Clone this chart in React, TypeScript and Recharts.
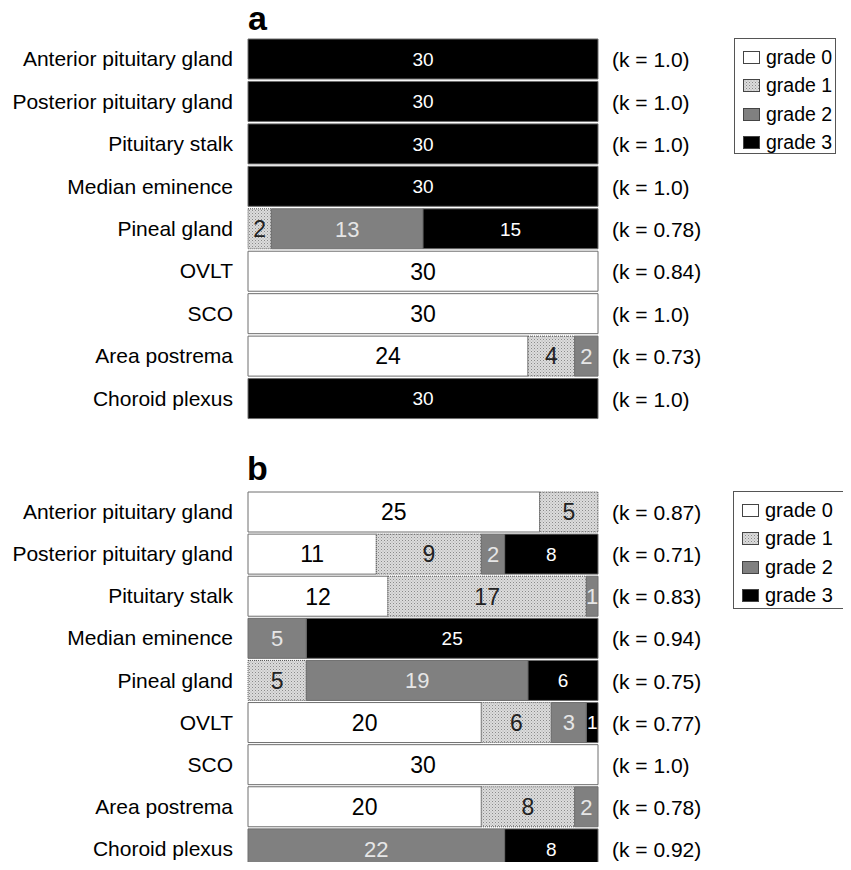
import { Bar, BarChart, LabelList, XAxis, YAxis } from 'recharts';

const organs = [
  'Anterior pituitary gland',
  'Posterior pituitary gland',
  'Pituitary stalk',
  'Median eminence',
  'Pineal gland',
  'OVLT',
  'SCO',
  'Area postrema',
  'Choroid plexus',
];

const gradeNames = ['grade 0', 'grade 1', 'grade 2', 'grade 3'];

// panel a
const grade0A = [0, 0, 0, 0, 0, 30, 30, 24, 0];
const grade1A = [0, 0, 0, 0, 2, 0, 0, 4, 0];
const grade2A = [0, 0, 0, 0, 13, 0, 0, 2, 0];
const grade3A = [30, 30, 30, 30, 15, 0, 0, 0, 30];
const kappaA = ['1.0', '1.0', '1.0', '1.0', '0.78', '0.84', '1.0', '0.73', '1.0'];

// panel b
const grade0B = [25, 11, 12, 0, 0, 20, 30, 20, 0];
const grade1B = [5, 9, 17, 0, 5, 6, 0, 8, 0];
const grade2B = [0, 2, 1, 5, 19, 3, 0, 2, 22];
const grade3B = [0, 8, 0, 25, 6, 1, 0, 0, 8];
const kappaB = ['0.87', '0.71', '0.83', '0.94', '0.75', '0.77', '1.0', '0.78', '0.92'];

const FONT = '"Liberation Sans", Arial, sans-serif';

const fills = ['#ffffff', 'url(#dots)', '#808080', '#000000'];
const labelColors = ['#000', '#222', '#e6e6e6', '#fff'];
const labelSizes = [23, 23, 22, 19];

const buildRows = (g0: number[], g1: number[], g2: number[], g3: number[], k: string[]) =>
  organs.map((name, i) => ({ name, g0: g0[i], g1: g1[i], g2: g2[i], g3: g3[i], k: k[i] }));

const rowsA = buildRows(grade0A, grade1A, grade2A, grade3A, kappaA);
const rowsB = buildRows(grade0B, grade1B, grade2B, grade3B, kappaB);

const LeftTick = ({ x, y, payload }: any) => (
  <text x={x} y={y} dy={7} textAnchor="end" fontSize={21} fill="#000" fontFamily={FONT}>
    {payload.value}
  </text>
);

const makeRightTick = (rows: { k: string }[]) => ({ x, y, payload, index }: any) => (
  <text x={x} y={y} dy={8} textAnchor="start" fontSize={21} fill="#000" fontFamily={FONT}>
    {`(k = ${rows[index ?? payload.index]?.k})`}
  </text>
);

const makeLabel = (i: number) => (props: any) => {
  const { x, y, width, height, value } = props;
  if (!value) return null;
  const size = labelSizes[i];
  return (
    <text
      x={Number(x) + Number(width) / 2}
      y={Number(y) + Number(height) / 2 + size * 0.36}
      textAnchor="middle"
      fontSize={size}
      fill={labelColors[i]}
      fontFamily={FONT}
    >
      {value}
    </text>
  );
};

const Panel = ({ rows, top, height, mTop, mBottom }: any) => (
  <div style={{ position: 'absolute', left: 0, top }}>
    <BarChart
      width={851}
      height={height}
      data={rows}
      layout="vertical"
      barSize={40}
      margin={{ top: mTop, bottom: mBottom, left: 8, right: 123 }}
    >
      <XAxis type="number" domain={[0, 30]} hide />
      <YAxis
        yAxisId="left"
        type="category"
        dataKey="name"
        width={240}
        axisLine={false}
        tickLine={false}
        tickSize={0}
        tickMargin={15}
        interval={0}
        tick={<LeftTick />}
      />
      <YAxis
        yAxisId="right"
        orientation="right"
        type="category"
        dataKey="name"
        width={130}
        axisLine={false}
        tickLine={false}
        tickSize={0}
        tickMargin={14}
        interval={0}
        tick={makeRightTick(rows)}
      />
      {['g0', 'g1', 'g2', 'g3'].map((key, i) => (
        <Bar
          key={key}
          yAxisId="left"
          dataKey={key}
          stackId="s"
          fill={fills[i]}
          stroke={i === 1 ? '#555' : '#6e6e6e'}
          strokeWidth={1}
          strokeDasharray={i === 1 ? '1 1' : undefined}
          isAnimationActive={false}
        >
          <LabelList dataKey={key} content={makeLabel(i)} />
        </Bar>
      ))}
    </BarChart>
  </div>
);

const LegendBox = ({ left, top, width, height, gap, size }: any) => (
  <div
    style={{
      position: 'absolute',
      left,
      top,
      width,
      height,
      border: '1px solid #555',
      boxSizing: 'border-box',
      fontFamily: FONT,
      fontSize: size,
      paddingTop: 4,
      paddingLeft: 8,
    }}
  >
    {gradeNames.map((g, i) => (
      <div key={g} style={{ display: 'flex', alignItems: 'center', height: gap }}>
        <svg width={17} height={13} style={{ marginRight: 6 }}>
          <rect x={0.5} y={0.5} width={16} height={12} fill={fills[i]} stroke="#444" />
        </svg>
        <span>{g}</span>
      </div>
    ))}
  </div>
);

export default function App() {
  return (
    <div style={{ position: 'relative', margin: -8, width: 851, height: 870, background: '#fff', overflow: 'hidden' }}>
      <svg width={0} height={0} style={{ position: 'absolute' }}>
        <defs>
          <pattern id="dots" width={3} height={3} patternUnits="userSpaceOnUse">
            <rect width={3} height={3} fill="#dcdcdc" />
            <rect width={1} height={1} fill="#8a8a8a" />
            <rect x={1.5} y={1.5} width={1} height={1} fill="#a8a8a8" />
          </pattern>
        </defs>
      </svg>
      <div style={{ position: 'absolute', left: 248, top: 2, lineHeight: '32px', fontFamily: FONT, fontWeight: 'bold', fontSize: 34 }}>a</div>
      <div style={{ position: 'absolute', left: 247, top: 452, lineHeight: '32px', fontFamily: FONT, fontWeight: 'bold', fontSize: 34 }}>b</div>
      <Panel rows={rowsA} top={0} height={430} mTop={38} mBottom={10} />
      <Panel rows={rowsB} top={450} height={420} mTop={41} mBottom={0} />
      <LegendBox left={734} top={38} width={102} height={116} gap={28.5} size={19.5} />
      <LegendBox left={733} top={491} width={113} height={118} gap={28.5} size={20} />
    </div>
  );
}
